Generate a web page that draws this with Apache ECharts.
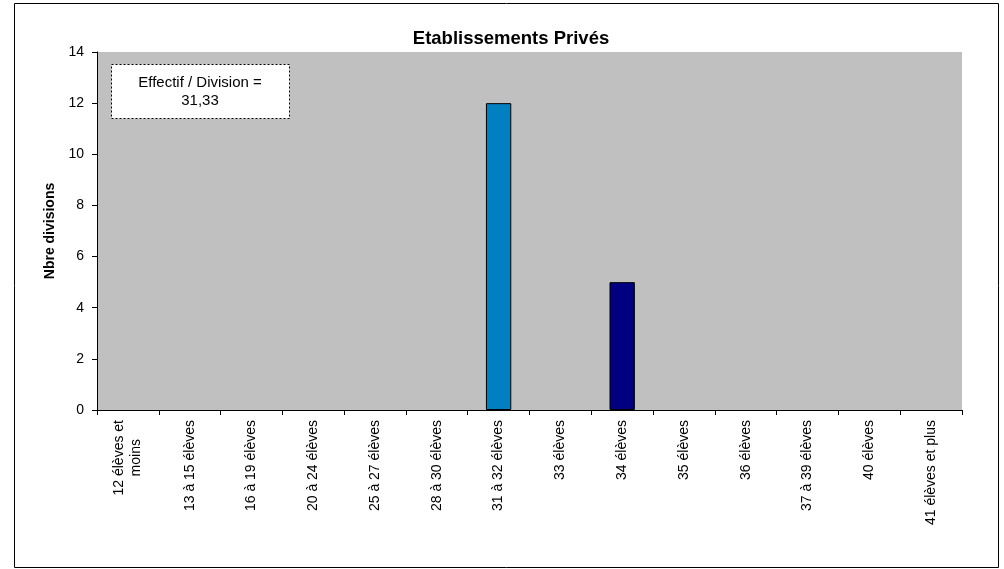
<!DOCTYPE html>
<html>
<head>
<meta charset="utf-8">
<script src="https://cdn.jsdelivr.net/npm/echarts@6/dist/echarts.min.js"></script>
<style>
  html, body { margin: 0; padding: 0; background: #fff; }
  #main { width: 1004px; height: 569px; }
</style>
</head>
<body>
<div id="main"></div>
<script>
// catégories (effectif par division)
var categories = [
  "12 élèves et\nmoins", "13 à 15 élèves", "16 à 19 élèves", "20 à 24 élèves",
  "25 à 27 élèves", "28 à 30 élèves", "31 à 32 élèves", "33 élèves",
  "34 élèves", "35 élèves", "36 élèves", "37 à 39 élèves", "40 élèves",
  "41 élèves et plus"
];
// nombre de divisions
var values = [0, 0, 0, 0, 0, 0, 12, 0, 5, 0, 0, 0, 0, 0];
var yTicks = [0, 2, 4, 6, 8, 10, 12, 14];
var barColors = ["#0080C0", "#000080"];

var font = "Liberation Sans, Arial, sans-serif";
var chart = echarts.init(document.getElementById("main"));

var option = {
  animation: false,
  title: {
    text: "Etablissements Privés",
    left: 506,
    textAlign: "center",
    top: 24,
    textStyle: { fontFamily: font, fontSize: 18.5, fontWeight: "bold", color: "#000" }
  },
  grid: { left: 97, right: 42, top: 52, bottom: 159, backgroundColor: "#C0C0C0", show: true, borderWidth: 0 },
  xAxis: {
    type: "category",
    data: categories,
    axisLine: { lineStyle: { color: "#000", width: 1 } },
    axisTick: { show: true, length: 5, lineStyle: { color: "#000" } },
    axisLabel: {
      rotate: 90, margin: 10, interval: 0,
      fontFamily: font, fontSize: 14, color: "#000", lineHeight: 17,
      // lignes centrées comme dans Excel
      formatter: function (v) {
        return v.split("\n").map(function (l) { return "{c|" + l + "}"; }).join("\n");
      },
      rich: { c: { align: "center", fontFamily: font, fontSize: 14, color: "#000", lineHeight: 17 } }
    }
  },
  yAxis: {
    type: "value",
    min: yTicks[0],
    max: yTicks[yTicks.length - 1],
    interval: 2,
    name: "Nbre divisions",
    nameLocation: "middle",
    nameGap: 37,
    nameTextStyle: { fontFamily: font, fontSize: 14, fontWeight: "bold", color: "#000" },
    axisLine: { show: true, lineStyle: { color: "#000", width: 1 } },
    axisTick: { show: true, length: 5, lineStyle: { color: "#000" } },
    splitLine: { show: false },
    axisLabel: { fontFamily: font, fontSize: 14, color: "#000", margin: 13 }
  },
  series: [{
    type: "bar",
    data: values.map(function (v) { return v > 0 ? v : "-"; }),
    barWidth: "41%",
    itemStyle: {
      borderColor: "#000",
      borderWidth: 1,
      color: function (p) {
        return p.dataIndex === 8 ? barColors[1] : barColors[0];
      }
    }
  }],
  graphic: [
    {
      type: "rect",
      shape: { x: 14.5, y: 3.5, width: 984, height: 564 },
      style: { fill: null, stroke: "#000", lineWidth: 1 },
      z: -1
    },
    {
      type: "rect",
      shape: { x: 111.5, y: 64.5, width: 178, height: 54 },
      style: { fill: "#fff", stroke: "#000", lineWidth: 1, lineDash: [2, 2] },
      z: 10
    },
    {
      type: "text",
      x: 200,
      y: 92,
      style: {
        text: "Effectif / Division =\n31,33",
        fontFamily: font,
        fontSize: 15,
        lineHeight: 18,
        fill: "#000",
        align: "center",
        verticalAlign: "middle"
      },
      z: 11
    }
  ]
};
chart.setOption(option);
</script>
</body>
</html>
